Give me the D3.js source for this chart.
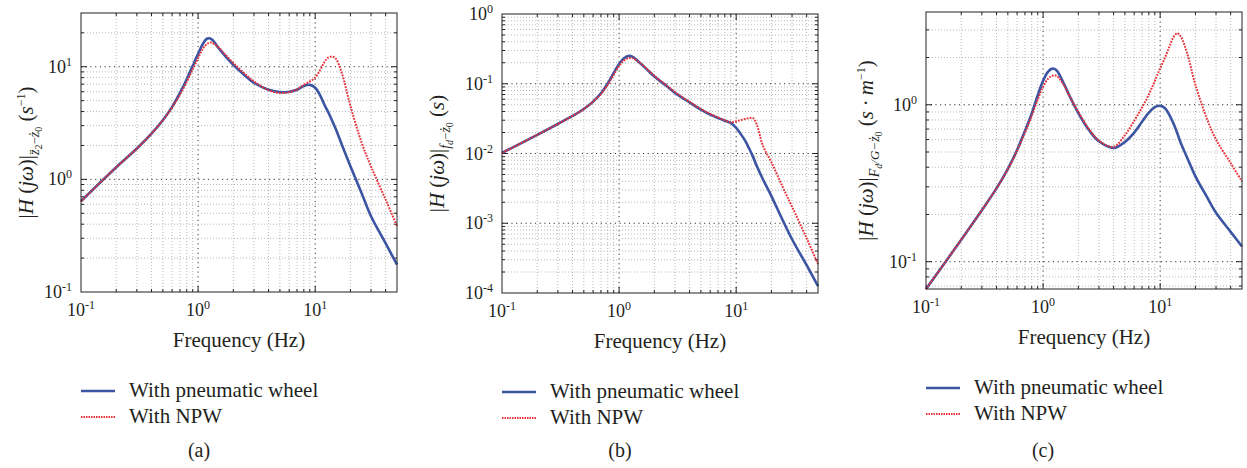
<!DOCTYPE html>
<html>
<head>
<meta charset="utf-8">
<script src="https://cdn.jsdelivr.net/npm/d3@7"></script>
<style>
  body { margin: 0; background: #fff; }
</style>
</head>
<body>
<div id="chart"></div>
<script>
// frequency points (Hz) the curves were read at
const freq = [0.1, 0.2, 0.3, 0.4, 0.5, 0.6, 0.7, 0.8, 0.9, 1.0, 1.1, 1.2, 1.3, 1.5, 1.7, 2, 2.5, 3, 4, 5,
              6, 7, 8, 9, 10, 11, 12, 13, 14, 15, 17, 20, 25, 30, 40, 50];

// (a) body acceleration / road velocity
const aPneumatic = [0.64, 1.28, 1.88, 2.55, 3.35, 4.4, 5.85, 7.75, 10.2, 13.0, 16.0, 17.8, 17.6, 14.6, 12.5, 10.4, 8.4, 7.2, 6.25, 5.95,
                    6.0, 6.25, 6.75, 6.9, 6.5, 5.6, 4.6, 3.9, 3.3, 2.8, 2.0, 1.31, 0.75, 0.47, 0.27, 0.175];
const aNpw       = [0.64, 1.28, 1.88, 2.55, 3.35, 4.35, 5.65, 7.35, 9.5, 11.9, 14.5, 16.0, 16.4, 14.8, 12.9, 10.8, 8.7, 7.4, 6.2, 5.85,
                    5.95, 6.3, 6.9, 7.4, 8.0, 9.3, 11.0, 12.1, 12.3, 11.8, 8.6, 4.5, 2.1, 1.3, 0.66, 0.385];

// (b) suspension deflection / road velocity
const bPneumatic = [0.0102, 0.0185, 0.0265, 0.0345, 0.0435, 0.0555, 0.073, 0.101, 0.143, 0.192, 0.232, 0.25, 0.245, 0.2, 0.165, 0.127, 0.095, 0.074, 0.054, 0.0425,
                    0.036, 0.0323, 0.0295, 0.0274, 0.0233, 0.0188, 0.015, 0.0115, 0.0088, 0.0066, 0.0042, 0.00245, 0.0011, 0.00059, 0.00025, 0.000125];
const bNpw       = [0.0102, 0.0185, 0.0265, 0.0345, 0.0435, 0.0553, 0.0715, 0.097, 0.135, 0.18, 0.215, 0.232, 0.233, 0.2, 0.168, 0.13, 0.097, 0.076, 0.055, 0.0435,
                    0.037, 0.033, 0.03, 0.028, 0.029, 0.0302, 0.0313, 0.0323, 0.032, 0.026, 0.0127, 0.0075, 0.0033, 0.00173, 0.00061, 0.00026];

// (c) dynamic tyre load / road velocity
const cPneumatic = [0.067, 0.138, 0.213, 0.293, 0.39, 0.515, 0.68, 0.88, 1.15, 1.42, 1.62, 1.70, 1.66, 1.37, 1.12, 0.885, 0.68, 0.585, 0.53, 0.58,
                    0.665, 0.78, 0.89, 0.965, 0.985, 0.95, 0.86, 0.76, 0.66, 0.57, 0.46, 0.35, 0.26, 0.205, 0.155, 0.125];
const cNpw       = [0.067, 0.138, 0.213, 0.293, 0.388, 0.51, 0.665, 0.85, 1.08, 1.3, 1.46, 1.53, 1.53, 1.34, 1.12, 0.9, 0.69, 0.59, 0.54, 0.64,
                    0.79, 0.96, 1.16, 1.42, 1.71, 2.0, 2.35, 2.7, 2.86, 2.72, 2.13, 1.34, 0.82, 0.6, 0.425, 0.325];

const xTicks = [0.1, 1, 10];
const aYTicks = [0.1, 1, 10];
const bYTicks = [0.0001, 0.001, 0.01, 0.1, 1];
const cYTicks = [0.1, 1];

const seriesNames = ["With pneumatic wheel", "With NPW"];
const captions = ["(a)", "(b)", "(c)"];

const blue = "#3b55a3", red = "#e8323a";
const serif = "'Liberation Serif', 'Times New Roman', 'DejaVu Serif', serif";

let svg = d3.select("#chart").append("svg")
    .attr("width", 1247)
    .attr("height", 468)
    .attr("font-family", serif)
    .style("font-family", serif);

// write a run of text pieces: [text, size, italic, raise]
function richText(sel, parts) {
    let prev = 0;
    parts.forEach(function(p) {
        let shift = p[3] || 0;
        sel.append("tspan")
            .attr("dy", prev - shift)
            .attr("font-family", serif)
            .style("font-size", p[1] + "px")
            .style("font-style", p[2] ? "italic" : "normal")
            .text(p[0]);
        prev = shift;
    });
    return sel;
}

function label(g) {
    return g.append("text").attr("font-family", serif).attr("fill", "#231f20");
}

function drawPanel(cfg) {
    let x = d3.scaleLog().domain([0.1, 50]).range([cfg.left, cfg.right]);
    let y = d3.scaleLog().domain(cfg.yDomain).range([cfg.bottom, cfg.top]);
    let g = svg.append("g");

    let isMajor = function(v) { return Math.abs(Math.log10(v) - Math.round(Math.log10(v))) < 1e-6; };

    // grid
    let xg = x.ticks().filter(v => v > 0.1 && v < 50);
    let yg = y.ticks().filter(v => y(v) > cfg.top + 0.5 && y(v) < cfg.bottom - 0.5);
    g.selectAll(".gx").data(xg).enter().append("line")
        .attr("x1", d => x(d)).attr("x2", d => x(d))
        .attr("y1", cfg.top).attr("y2", cfg.bottom)
        .attr("stroke", d => isMajor(d) ? "#333" : "#a8a8a8")
        .attr("stroke-width", d => isMajor(d) ? 1 : 0.8)
        .attr("stroke-dasharray", d => isMajor(d) ? "1.2,3.5" : "1,2");
    g.selectAll(".gy").data(yg).enter().append("line")
        .attr("y1", d => y(d)).attr("y2", d => y(d))
        .attr("x1", cfg.left).attr("x2", cfg.right)
        .attr("stroke", d => isMajor(d) ? "#333" : "#a8a8a8")
        .attr("stroke-width", d => isMajor(d) ? 1 : 0.8)
        .attr("stroke-dasharray", d => isMajor(d) ? "1.2,3.5" : "1,2");

    // inward ticks on all four sides
    xg.forEach(function(v) {
        let len = isMajor(v) ? 6 : 3;
        g.append("line").attr("x1", x(v)).attr("x2", x(v)).attr("y1", cfg.bottom).attr("y2", cfg.bottom - len).attr("stroke", "#222");
        g.append("line").attr("x1", x(v)).attr("x2", x(v)).attr("y1", cfg.top).attr("y2", cfg.top + len).attr("stroke", "#222");
    });
    yg.forEach(function(v) {
        let len = isMajor(v) ? 6 : 3;
        g.append("line").attr("y1", y(v)).attr("y2", y(v)).attr("x1", cfg.left).attr("x2", cfg.left + len).attr("stroke", "#222");
        g.append("line").attr("y1", y(v)).attr("y2", y(v)).attr("x1", cfg.right).attr("x2", cfg.right - len).attr("stroke", "#222");
    });

    // curves
    let line = d3.line()
        .x(d => x(d[0]))
        .y(d => y(d[1]))
        .curve(d3.curveCatmullRom.alpha(0.5));
    g.append("path")
        .datum(freq.map((f, i) => [f, cfg.pneumatic[i]]))
        .attr("d", line)
        .attr("fill", "none")
        .attr("stroke", blue)
        .attr("stroke-width", 2.6);
    g.append("path")
        .datum(freq.map((f, i) => [f, cfg.npw[i]]))
        .attr("d", line)
        .attr("fill", "none")
        .attr("stroke", red)
        .attr("stroke-width", 2)
        .attr("stroke-dasharray", "1.8,1.2");

    // box
    g.append("rect")
        .attr("x", cfg.left).attr("y", cfg.top)
        .attr("width", cfg.right - cfg.left).attr("height", cfg.bottom - cfg.top)
        .attr("fill", "none").attr("stroke", "#222").attr("stroke-width", 1);

    // tick labels
    xTicks.forEach(function(v) {
        let t = label(g).attr("x", x(v)).attr("y", cfg.bottom + 24).attr("text-anchor", "middle");
        richText(t, [["10", 18], [String(Math.round(Math.log10(v))), 12, false, 7]]);
    });
    cfg.yTicks.forEach(function(v) {
        let t = label(g).attr("x", cfg.left - 9).attr("y", y(v) + 6).attr("text-anchor", "end");
        richText(t, [["10", 18], [String(Math.round(Math.log10(v))), 12, false, 7]]);
    });

    // axis titles
    label(g)
        .attr("x", (cfg.left + cfg.right) / 2)
        .attr("y", cfg.bottom + 55)
        .attr("text-anchor", "middle")
        .style("font-size", "21px")
        .text("Frequency (Hz)");

    let yl = label(g)
        .attr("transform", "translate(" + cfg.labelX + "," + ((cfg.top + cfg.bottom) / 2) + ") rotate(-90)")
        .attr("text-anchor", "middle");
    richText(yl, cfg.yLabel);

    // legend
    let ly = cfg.bottom + 99;
    g.append("line").attr("x1", cfg.left).attr("x2", cfg.left + 34).attr("y1", ly).attr("y2", ly)
        .attr("stroke", blue).attr("stroke-width", 2.6);
    g.append("line").attr("x1", cfg.left).attr("x2", cfg.left + 34).attr("y1", ly + 26).attr("y2", ly + 26)
        .attr("stroke", red).attr("stroke-width", 1.8).attr("stroke-dasharray", "1.5,1");
    label(g).attr("x", cfg.left + 48).attr("y", ly + 6).style("font-size", "21px").text(seriesNames[0]);
    label(g).attr("x", cfg.left + 48).attr("y", ly + 32).style("font-size", "21px").text(seriesNames[1]);

    label(g).attr("x", cfg.captionX).attr("y", 457)
        .attr("text-anchor", "middle").style("font-size", "20px").text(cfg.caption);
}

drawPanel({
    left: 81, right: 397, top: 13, bottom: 292,
    yDomain: [0.1, 30], yTicks: aYTicks,
    pneumatic: aPneumatic, npw: aNpw,
    labelX: 33, captionX: 199, caption: captions[0],
    yLabel: [["|", 21], ["H", 21, true], [" (", 21], ["jω", 21, true], [")|", 21],
             ["z̈", 14, true, -6], ["2", 10, false, -9], ["−", 13, false, -6], ["ż", 14, true, -6], ["0", 10, false, -9],
             [" (", 21], ["s", 21, true], ["−1", 12, false, 8], [")", 21]]
});

drawPanel({
    left: 502, right: 818, top: 14, bottom: 293,
    yDomain: [0.0001, 1], yTicks: bYTicks,
    pneumatic: bPneumatic, npw: bNpw,
    labelX: 444, captionX: 620, caption: captions[1],
    yLabel: [["|", 21], ["H", 21, true], [" (", 21], ["jω", 21, true], [")|", 21],
             ["f", 14, true, -6], ["d", 10, true, -9], ["−", 13, false, -6], ["ż", 14, true, -6], ["0", 10, false, -9],
             [" (", 21], ["s", 21, true], [")", 21]]
});

drawPanel({
    left: 926, right: 1242, top: 12, bottom: 289,
    yDomain: [0.067, 3.9], yTicks: cYTicks,
    pneumatic: cPneumatic, npw: cNpw,
    labelX: 873, captionX: 1043, caption: captions[2],
    yLabel: [["|", 21], ["H", 21, true], [" (", 21], ["jω", 21, true], [")|", 21],
             ["F", 14, true, -6], ["d", 10, true, -9], ["/G−", 13, true, -6], ["ż", 14, true, -6], ["0", 10, false, -9],
             [" (", 21], ["s · m", 21, true], ["−1", 12, false, 8], [")", 21]]
});
</script>
</body>
</html>
